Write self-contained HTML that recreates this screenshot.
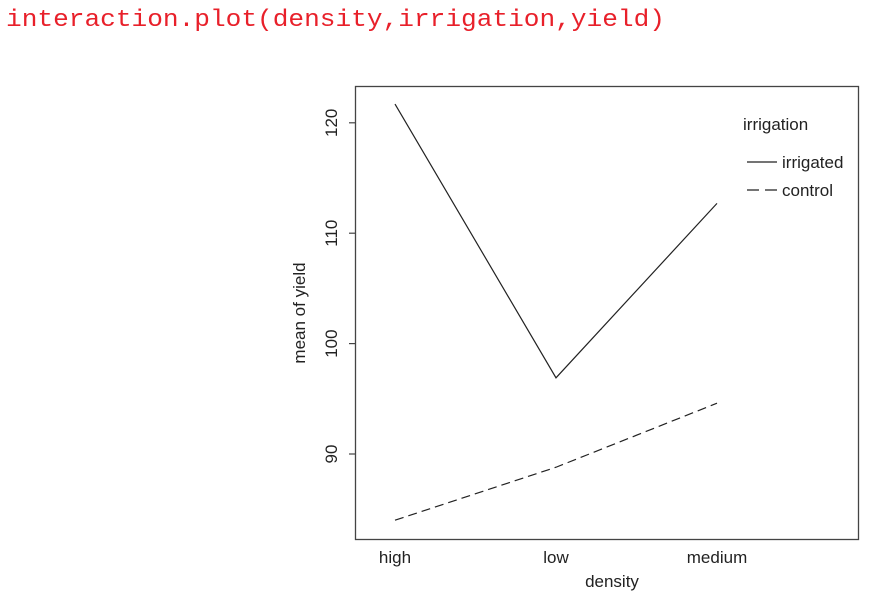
<!DOCTYPE html>
<html><head><meta charset="utf-8"><style>
body{margin:0;background:#fff;}
svg{display:block;font-family:"Liberation Sans",sans-serif;}
</style></head><body>
<svg id="chart" width="881" height="597">
<text x="6" y="26" fill="#e8202a" font-family="Liberation Mono, monospace" font-size="24" textLength="659" lengthAdjust="spacingAndGlyphs">interaction.plot(density,irrigation,yield)</text>
<rect x="355.5" y="86.5" width="503" height="453" fill="none" stroke="#444" stroke-width="1.3"/>
<g id="yaxis"></g>
<g id="xaxis"></g>
<g id="series"></g>
<text x="612" y="587" text-anchor="middle" font-size="17" fill="#222">density</text>
<text transform="translate(305,313) rotate(-90)" text-anchor="middle" font-size="17" fill="#222">mean of yield</text>
<g>
<text x="743" y="130" font-size="17" fill="#222">irrigation</text>
<line x1="747" y1="162" x2="777" y2="162" stroke="#222" stroke-width="1.2"/>
<text x="782" y="168" font-size="17" fill="#222">irrigated</text>
<line x1="747" y1="190" x2="777" y2="190" stroke="#222" stroke-width="1.2" stroke-dasharray="12,6"/>
<text x="782" y="196" font-size="17" fill="#222">control</text>
</g>
</svg>
<script>
const categories=["high","low","medium"];
const irrigated=[121.7,96.9,112.7];
const control=[84.0,88.8,94.6];
const yTicks=[90,100,110,120];
const NS="http://www.w3.org/2000/svg";
function xs(i){return 395+i*161;}
function ys(v){return 454-(v-90)*11.04;}
function mk(tag,attrs,parent){const e=document.createElementNS(NS,tag);for(const k in attrs)e.setAttribute(k,attrs[k]);parent.appendChild(e);return e;}
const ya=document.getElementById('yaxis');
yTicks.forEach(t=>{
  const l=mk('line',{x1:349,x2:355.5,y1:ys(t),y2:ys(t),stroke:'#444','stroke-width':1.2},ya);
  
  
  const tx=mk('text',{transform:`translate(337,${ys(t)}) rotate(-90)`,'text-anchor':'middle','font-size':17,fill:'#222'},ya);
  tx.textContent=t;
  
  
});
const xa=document.getElementById('xaxis');
categories.forEach((c,i)=>{
  const tx=mk('text',{x:xs(i),y:563,'text-anchor':'middle','font-size':17,fill:'#222'},xa);
  tx.textContent=c;
  
  
});
const sg=document.getElementById('series');
const p1=mk('polyline',{points:irrigated.map((v,i)=>xs(i)+','+ys(v)).join(' '),fill:'none',stroke:'#222','stroke-width':1.2},sg);


const p2=mk('polyline',{points:control.map((v,i)=>xs(i)+','+ys(v)).join(' '),fill:'none',stroke:'#222','stroke-width':1.2,'stroke-dasharray':'9,5'},sg);


</script>
</body></html>
